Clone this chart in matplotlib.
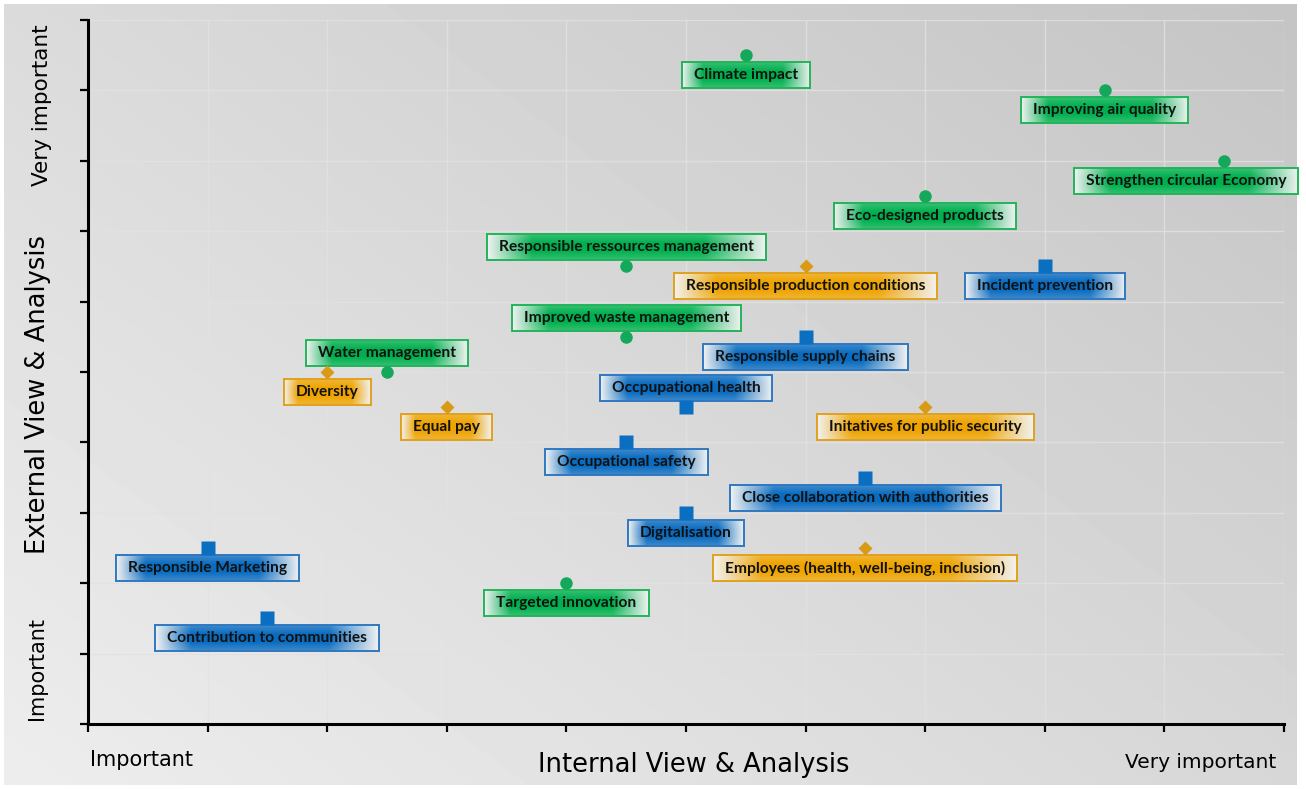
import numpy as np
import matplotlib
matplotlib.use("Agg")
import matplotlib.pyplot as plt
from matplotlib.patches import Rectangle
from matplotlib.colors import to_rgb

# materiality topics: internal score (x), external score (y), pillar
topics = [
    "Climate impact", "Improving air quality", "Strengthen circular Economy",
    "Eco-designed products", "Responsible ressources management",
    "Improved waste management", "Water management", "Targeted innovation",
    "Responsible production conditions", "Diversity", "Equal pay",
    "Initatives for public security", "Employees (health, well-being, inclusion)",
    "Incident prevention", "Responsible supply chains", "Occpupational health",
    "Occupational safety", "Close collaboration with authorities",
    "Digitalisation", "Responsible Marketing", "Contribution to communities",
]
internal = [5.5, 8.5, 9.5, 7.0, 4.5, 4.5, 2.5, 4.0,
            6.0, 2.0, 3.0, 7.0, 6.5,
            8.0, 6.0, 5.0, 4.5, 6.5, 5.0, 1.0, 1.5]
external = [9.5, 9.0, 8.0, 7.5, 6.5, 5.5, 5.0, 2.0,
            6.5, 5.0, 4.5, 4.5, 2.5,
            6.5, 5.5, 4.5, 4.0, 3.5, 3.0, 2.5, 1.5]
pillar = ["env"] * 8 + ["soc"] * 5 + ["gov"] * 8

x_ticks = np.arange(0, 11)
y_ticks = np.arange(0, 11)

# styling per pillar: marker, marker colour, box fill, box edge
style = {
    "env": dict(marker="o", ms=9, mc="#14a85a", fill="#00b04f", edge="#22b45a"),
    "soc": dict(marker="D", ms=7, mc="#d99a16", fill="#eea400", edge="#e0a11e"),
    "gov": dict(marker="s", ms=9.5, mc="#0b6fc1", fill="#0a6cc0", edge="#2f78c0"),
}
label_above = {"Responsible ressources management", "Improved waste management",
               "Water management", "Occpupational health"}
label_nudge = {"Strengthen circular Economy": -38}

W, H = 1306, 789
fig = plt.figure(figsize=(W / 100, H / 100), dpi=100, facecolor="white")

# background gradient (light bottom-left -> darker top-right)
bg = fig.add_axes([4 / W, 4 / H, 1293 / W, 781 / H], zorder=-5)
gx, gy = np.meshgrid(np.linspace(0, 1, 300), np.linspace(0, 1, 200))
g = np.clip(0.55 * gx + 0.45 * gy, 0, 1)
bg.imshow(0.93 - 0.16 * g, cmap="gray", vmin=0, vmax=1, origin="lower",
          aspect="auto", extent=[0, 1, 0, 1], interpolation="bicubic")
bg.axis("off")

ax = fig.add_axes([88 / W, 65 / H, 1196 / W, 704 / H])
ax.set_facecolor("none")
ax.set_xlim(0, 10)
ax.set_ylim(0, 10)
ax.set_xticks(x_ticks)
ax.set_yticks(y_ticks)
ax.set_xticklabels([])
ax.set_yticklabels([])
ax.tick_params(direction="out", length=6, width=1.6, color="black")
for side in ("top", "right"):
    ax.spines[side].set_visible(False)
for side in ("left", "bottom"):
    ax.spines[side].set_linewidth(2.2)
ax.grid(True, color="#e2e2e2", linewidth=1, alpha=0.8)
ax.set_axisbelow(True)

# markers
for key, st in style.items():
    xs = [x for x, p in zip(internal, pillar) if p == key]
    ys = [y for y, p in zip(external, pillar) if p == key]
    ax.plot(xs, ys, linestyle="none", marker=st["marker"], ms=st["ms"],
            color=st["mc"], mec="none", zorder=6, clip_on=False)

# labels
texts = []
for name, x, y, p in zip(topics, internal, external, pillar):
    dy = 19 if name in label_above else -20
    dx = label_nudge.get(name, 0)
    t = ax.annotate(name, xy=(x, y), xytext=(dx, dy), textcoords="offset pixels",
                    ha="center", va="center", fontsize=11.2, fontweight="bold",
                    family=["Lato", "DejaVu Sans"], color="#111111", zorder=8)
    texts.append((t, x, y, dx, dy, p))

fig.canvas.draw()
renderer = fig.canvas.get_renderer()
inv = ax.transData.inverted()

tx = np.linspace(0, 1, 240)
sy = np.linspace(0, 1, 40)
TX, SY = np.meshgrid(tx, sy)
ax_a = np.clip(np.minimum(TX / 0.16, (1 - TX) / 0.22), 0, 1)
ay_a = 0.78 + 0.22 * np.clip(np.minimum(SY, 1 - SY) / 0.35, 0, 1)
alpha = (ax_a * ay_a)[..., None]
light = np.array([0.95, 0.95, 0.95])

for t, x, y, dx, dy, p in texts:
    bb = t.get_window_extent(renderer)
    px, py = ax.transData.transform((x, y))
    cx, cy = px + dx, py + dy
    half_w = bb.width / 2 + 12
    half_h = 13
    (x0, y0), (x1, y1) = inv.transform([[cx - half_w, cy - half_h],
                                        [cx + half_w, cy + half_h]])
    col = np.array(to_rgb(style[p]["fill"]))
    img = (1 - alpha) * light + alpha * col
    im = ax.imshow(img, extent=[x0, x1, y0, y1], aspect="auto", origin="lower",
                   zorder=5, interpolation="bilinear")
    im.set_clip_on(False)
    ax.add_patch(Rectangle((x0, y0), x1 - x0, y1 - y0, fill=False,
                           edgecolor=style[p]["edge"], linewidth=1.4,
                           zorder=5.5, clip_on=False))

ax.set_xlim(0, 10)
ax.set_ylim(0, 10)

# axis annotations
fig.text(141 / W, 1 - 760 / H, "Important", ha="center", va="center", fontsize=15)
fig.text(1201 / W, 1 - 762 / H, "Very important", ha="center", va="center", fontsize=14.5)
fig.text(694 / W, 1 - 765 / H, "Internal View & Analysis", ha="center", va="center",
         fontsize=18.5)
fig.text(42 / W, 1 - 105 / H, "Very important", ha="center", va="center",
         fontsize=15.5, rotation=90)
fig.text(37 / W, 1 - 669 / H, "Important", ha="center", va="center",
         fontsize=15, rotation=90)
fig.text(38 / W, 1 - 395 / H, "External View & Analysis", ha="center", va="center",
         fontsize=18.5, rotation=90)

fig.savefig("out.png", dpi=100, facecolor=fig.get_facecolor())
